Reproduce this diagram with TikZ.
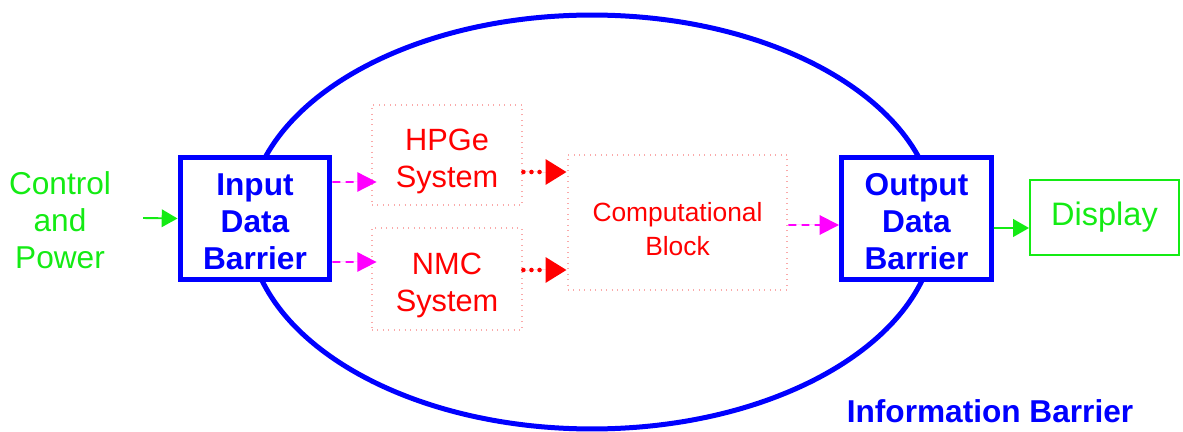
\documentclass[tikz,border=0pt]{standalone}
\usepackage{fontspec}
\setmainfont{Liberation Sans}
\usetikzlibrary{
    shapes.geometric,
    arrows.meta,
    positioning,
    calc
}
\definecolor{ibblue}{RGB}{0, 0, 255}
\definecolor{pwrgreen}{RGB}{20, 235, 20}
\definecolor{sysred}{RGB}{255, 0, 0}
\definecolor{linkmag}{RGB}{255, 0, 255}
\definecolor{dotpink}{RGB}{250, 170, 170}
\newcommand{\lowergap}[1]{\rule{0pt}{#1}}

\begin{document}
\begin{tikzpicture}[
        x=0.02cm, y=-0.02cm,
        barrier/.style={rectangle, draw=ibblue, line width=0.1cm, fill=white, minimum width=3cm, minimum height=2.46cm, inner sep=0pt, align=center, text=ibblue, font=\fontsize{18}{21}\selectfont\bfseries},
        subsys/.style={rectangle, draw=dotpink, line width=1.6pt, dash pattern=on 0.5pt off 2.6pt, inner sep=0pt, align=center, text=sysred, font=\fontsize{17.5}{21}\selectfont},
        magarrow/.style={-{Triangle[length=11pt, width=11pt]}, draw=linkmag, fill=linkmag, line width=1.1pt, dash pattern=on 4.5pt off 3pt},
        redarrow/.style={-{Triangle[length=12pt, width=14pt]}, draw=sysred, fill=sysred, line width=2.6pt, line cap=round, dash pattern=on 0pt off 4.6pt},
        grnarrow/.style={-{Triangle[length=9pt, width=10pt]}, draw=pwrgreen, fill=pwrgreen, line width=1.1pt}
    ]
        \useasboundingbox (0,0) rectangle (1183,432);

        % Barrier outline
        \node[draw=ibblue, line width=0.1cm, ellipse, minimum width=13.76cm, minimum height=8.28cm, inner sep=0pt] (ibarrier) at (592,222) {};
        \node[text=ibblue, font=\fontsize{18}{21}\selectfont\bfseries] (iblabel) at (990,411) {Information Barrier};

        % Left side: supply and input
        \node[align=center, text=pwrgreen, font=\fontsize{18}{21}\selectfont] (ctrl) at (60,220) {Control\\and\\Power};
        \node[barrier] (inbar) at (255,218.5) {\lowergap{16.4pt}Input\\Data\\Barrier};

        % Inside: detector systems
        \node[subsys, minimum width=3cm, minimum height=2cm] (hpge) at (447,155) {\lowergap{19.5pt}HPGe\\System};
        \node[subsys, minimum width=3cm, minimum height=2.04cm] (nmc) at (447,279) {\lowergap{19.5pt}NMC\\System};
        \node[subsys, minimum width=4.38cm, minimum height=2.7cm, font=\fontsize{15}{19.5}\selectfont] (comp) at (677.5,222.5) {\lowergap{18pt}Computational\\Block};

        % Right side: output and display
        \node[barrier] (outbar) at (916.5,218.5) {\lowergap{16.4pt}Output\\Data\\Barrier};
        \node[rectangle, draw=pwrgreen, line width=1.1pt, minimum width=2.98cm, minimum height=1.5cm, text=pwrgreen, font=\fontsize{18.5}{21}\selectfont] (disp) at (1104.5,217.5) {Display};

        % Arrows
        \draw[grnarrow] ([xshift=0.52cm,yshift=0.04cm]ctrl.east) -- (inbar.west);
        \draw[magarrow] ([yshift=0.73cm]inbar.east) -- ([xshift=0.12cm,yshift=-0.54cm]hpge.west);
        \draw[magarrow] ([yshift=-0.87cm]inbar.east) -- ([xshift=0.12cm,yshift=0.34cm]nmc.west);
        \draw[redarrow] ([yshift=-0.34cm]hpge.east) -- ([yshift=1.01cm]comp.west);
        \draw[redarrow] ([yshift=0.18cm]nmc.east) -- ([yshift=-0.95cm]comp.west);
        \draw[magarrow] ([yshift=-0.05cm]comp.east) -- ([yshift=-0.13cm]outbar.west);
        \draw[grnarrow] ([yshift=-0.19cm]outbar.east) -- ([yshift=-0.21cm]disp.west);
    \end{tikzpicture}
\end{document}
